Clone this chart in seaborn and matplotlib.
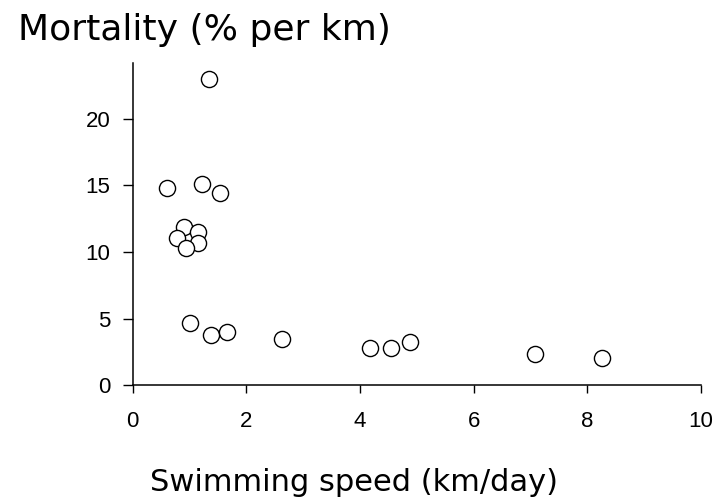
import numpy as np
import pandas as pd
import matplotlib
matplotlib.use("Agg")
import matplotlib.pyplot as plt
import seaborn as sns

# velocidad de nado (km/dia) y mortalidad (% por km)
speed = [1.34, 0.60, 1.21, 1.53, 0.90, 1.15, 0.77, 1.15, 0.93,
         1.00, 1.37, 1.65, 2.63, 4.17, 4.54, 4.88, 7.08, 8.25]
mortality = [23.0, 14.8, 15.15, 14.4, 11.9, 11.5, 11.05, 10.7, 10.3,
             4.67, 3.75, 4.0, 3.45, 2.8, 2.8, 3.25, 2.33, 2.0]
xticks = [0, 2, 4, 6, 8, 10]
yticks = [0, 5, 10, 15, 20]

df = pd.DataFrame({"speed": speed, "mortality": mortality})

sns.set_style("ticks")
plt.rcParams["font.family"] = ["Liberation Sans", "DejaVu Sans"]

fig = plt.figure(figsize=(7.14, 5.01), dpi=100)
ax = fig.add_axes([0.186, 0.2315, 0.796, 0.6425])
sns.scatterplot(data=df, x="speed", y="mortality", ax=ax, s=135,
                facecolor="white", edgecolor="black", linewidth=1.0, marker="o")

ax.set_xlim(0, 10)
ax.set_ylim(0, 24.2)
ax.set_xticks(xticks)
ax.set_yticks(yticks)
ax.tick_params(axis="both", labelsize=16, colors="black", width=1)
ax.tick_params(axis="y", length=7, pad=9)
ax.tick_params(axis="x", length=6, pad=13)
sns.despine(ax=ax)
for sp in ["left", "bottom"]:
    ax.spines[sp].set_linewidth(1.1)
    ax.spines[sp].set_color("black")

ax.set_xlabel("")
ax.set_ylabel("")
fig.text(0.210, 0.02, "Swimming speed (km/day)", fontsize=22, color="black",
         family="DejaVu Sans", ha="left", va="baseline")
fig.text(0.025, 0.920, "Mortality (% per km)", fontsize=26, color="black",
         family="DejaVu Sans", ha="left", va="baseline")

fig.savefig("out.png", dpi=100)
